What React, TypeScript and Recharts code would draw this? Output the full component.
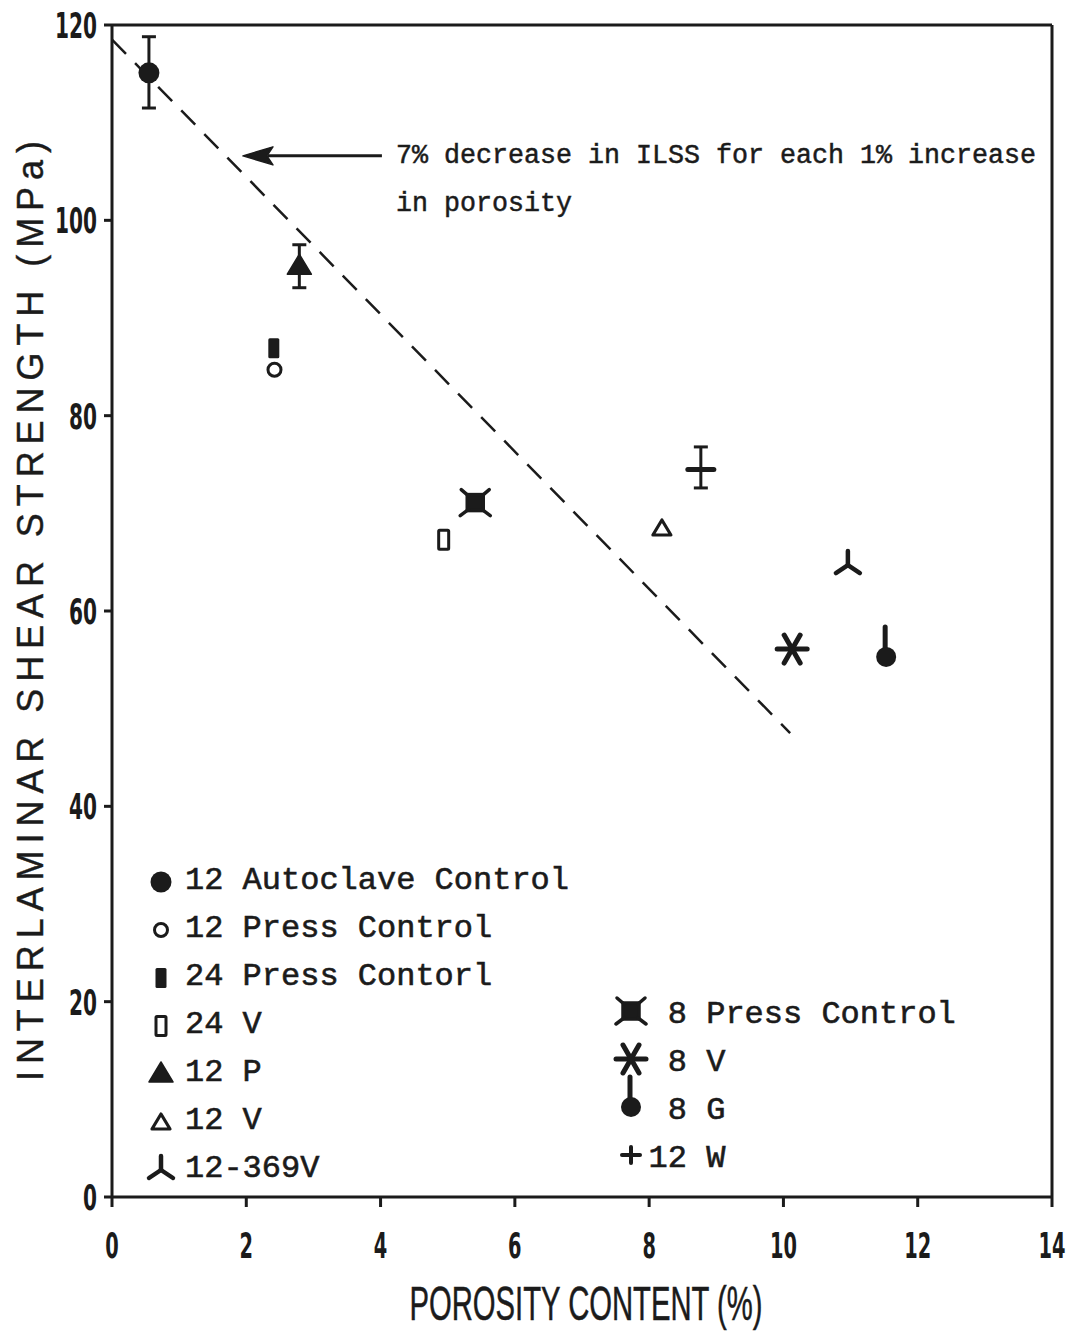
import React from "react";
import { ScatterChart, Scatter, XAxis, YAxis, ErrorBar, ReferenceLine } from "recharts";

const xTicks = [0, 2, 4, 6, 8, 10, 12, 14];
const yTicks = [0, 20, 40, 60, 80, 100, 120];

// porosity content (%), ILSS (MPa), error [below, above]
const autoclave12 = [{ x: 0.55, y: 115.1, err: [3.6, 3.7] }];
const pressControl12 = [{ x: 2.42, y: 84.7 }];
const pressControl24 = [{ x: 2.41, y: 86.9 }];
const v24 = [{ x: 4.94, y: 67.3 }];
const p12 = [{ x: 2.79, y: 95.3, err: [2.2, 2.2] }];
const v12 = [{ x: 8.19, y: 68.5 }];
const v12369 = [{ x: 10.96, y: 64.7 }];
const pressControl8 = [{ x: 5.41, y: 71.1 }];
const v8 = [{ x: 10.13, y: 56.1 }];
const g8 = [{ x: 11.53, y: 55.3 }];
const w12 = [{ x: 8.77, y: 74.5, err: [1.9, 2.3] }];

// 7% per 1% porosity trend
const trend = [
  { x: 0, y: 118.5 },
  { x: 10.1, y: 47.5 },
];
const arrow = [
  { x: 4.02, y: 106.6 },
  { x: 1.95, y: 106.6 },
];

const noteLines = ["7% decrease in ILSS for each 1% increase", "in porosity"];
const legendLeft = ["12 Autoclave Control", "12 Press Control", "24 Press Contorl", "24 V", "12 P", "12 V", "12-369V"];
const legendRight = ["8 Press Control", "8 V", "8 G", "12 W"];

const INK = "#1b1b1b";

type Mark = (cx: number, cy: number) => React.ReactElement;

const filledCircle: Mark = (cx, cy) => <circle cx={cx} cy={cy} r={10.5} fill={INK} />;
const openCircle: Mark = (cx, cy) => (
  <circle cx={cx} cy={cy} r={6.5} fill="#fff" stroke={INK} strokeWidth={3} />
);
const filledRect: Mark = (cx, cy) => (
  <rect x={cx - 5.5} y={cy - 10} width={11} height={20} rx={1.5} fill={INK} />
);
const openRect: Mark = (cx, cy) => (
  <rect x={cx - 5} y={cy - 9.5} width={10} height={19} rx={1} fill="#fff" stroke={INK} strokeWidth={3} />
);
const filledTriangle: Mark = (cx, cy) => (
  <polygon
    points={`${cx},${cy - 12} ${cx + 12},${cy + 8} ${cx - 12},${cy + 8}`}
    fill={INK}
    stroke={INK}
    strokeWidth={1.5}
    strokeLinejoin="round"
  />
);
const openTriangle: Mark = (cx, cy) => (
  <polygon
    points={`${cx},${cy - 8} ${cx + 9},${cy + 7} ${cx - 9},${cy + 7}`}
    fill="#fff"
    stroke={INK}
    strokeWidth={3.2}
    strokeLinejoin="round"
  />
);
const triStar: Mark = (cx, cy) => (
  <g stroke={INK} strokeWidth={4.5} strokeLinecap="round" fill="none">
    <line x1={cx} y1={cy} x2={cx} y2={cy - 14} />
    <line x1={cx} y1={cy} x2={cx - 12} y2={cy + 8} />
    <line x1={cx} y1={cy} x2={cx + 12} y2={cy + 8} />
  </g>
);
const xBox: Mark = (cx, cy) => (
  <g stroke={INK} strokeWidth={3.5} strokeLinecap="round">
    <rect x={cx - 8} y={cy - 8} width={16} height={16} fill={INK} />
    <line x1={cx - 7} y1={cy - 7} x2={cx - 14} y2={cy - 13} />
    <line x1={cx + 7} y1={cy - 7} x2={cx + 14} y2={cy - 13} />
    <line x1={cx - 7} y1={cy + 7} x2={cx - 15} y2={cy + 13} />
    <line x1={cx + 7} y1={cy + 7} x2={cx + 15} y2={cy + 13} />
  </g>
);
const asterisk: Mark = (cx, cy) => (
  <g stroke={INK} strokeWidth={5} strokeLinecap="round">
    <line x1={cx - 15} y1={cy} x2={cx + 15} y2={cy} />
    <line x1={cx - 8} y1={cy - 14} x2={cx + 8} y2={cy + 14} />
    <line x1={cx + 8} y1={cy - 14} x2={cx - 8} y2={cy + 14} />
  </g>
);
const stemCircle: Mark = (cx, cy) => (
  <g>
    <line x1={cx - 1} y1={cy} x2={cx - 1} y2={cy - 30} stroke={INK} strokeWidth={5} strokeLinecap="round" />
    <circle cx={cx} cy={cy} r={10} fill={INK} />
  </g>
);
const plusBar: Mark = (cx, cy) => (
  <line x1={cx - 13} y1={cy} x2={cx + 13} y2={cy} stroke={INK} strokeWidth={5} strokeLinecap="round" />
);
const plusSign: Mark = (cx, cy) => (
  <g stroke={INK} strokeWidth={4} strokeLinecap="round">
    <line x1={cx - 9} y1={cy} x2={cx + 9} y2={cy} />
    <line x1={cx} y1={cy - 8} x2={cx} y2={cy + 8} />
  </g>
);

const shapeOf = (mark: Mark) => (props: any) => mark(props.cx, props.cy);

const leftMarks: Mark[] = [filledCircle, openCircle, filledRect, openRect, filledTriangle, openTriangle, triStar];
const rightMarks: Mark[] = [xBox, asterisk, stemCircle, plusSign];

const tickFont = {
  fontFamily: "'DejaVu Sans Condensed', 'DejaVu Sans', sans-serif",
  fontWeight: 700,
  fontSize: 36,
  fill: INK,
};

const XTick = (props: any) => {
  const label = String(props.payload.value);
  return (
    <text
      x={props.x}
      y={1258}
      textAnchor="middle"
      textLength={label.length * 13.5}
      lengthAdjust="spacingAndGlyphs"
      {...tickFont}
    >
      {label}
    </text>
  );
};

const YTick = (props: any) => {
  const label = String(props.payload.value);
  return (
    <text
      x={97}
      y={props.y + 13}
      textAnchor="end"
      textLength={label.length * 14}
      lengthAdjust="spacingAndGlyphs"
      {...tickFont}
    >
      {label}
    </text>
  );
};

const ArrowShape = (props: any) => {
  const { x1, y1, x2, y2 } = props;
  return (
    <g>
      <line x1={x1} y1={y1} x2={x2 + 25} y2={y2} stroke={INK} strokeWidth={3} />
      <polygon
        points={`${x2},${y2} ${x2 + 30},${y2 - 9} ${x2 + 24},${y2} ${x2 + 30},${y2 + 9}`}
        fill={INK}
        stroke={INK}
        strokeWidth={1.5}
        strokeLinejoin="round"
      />
    </g>
  );
};

const legendText = {
  fontFamily: "'Liberation Mono', 'Courier New', monospace",
  fontSize: 32,
  fill: INK,
  stroke: INK,
  strokeWidth: 0.6,
};

const Overlay = () => (
  <svg width={1072} height={1336} style={{ position: "absolute", left: 0, top: 0, pointerEvents: "none" }}>
    {/* trend annotation */}
    <g fontFamily="'Liberation Mono', 'Courier New', monospace" fontSize={27} fill={INK} stroke={INK} strokeWidth={0.5}>
      <text x={396} y={163} textLength={640} lengthAdjust="spacingAndGlyphs">
        {noteLines[0]}
      </text>
      <text x={396} y={211} textLength={176} lengthAdjust="spacingAndGlyphs">
        {noteLines[1]}
      </text>
    </g>

    {/* legend, left column */}
    {legendLeft.map((label, i) => (
      <g key={label}>
        {leftMarks[i](161, 882 + i * 48)}
        <text x={185} y={889 + i * 48} textLength={label.length * 19.2} lengthAdjust="spacingAndGlyphs" {...legendText}>
          {label}
        </text>
      </g>
    ))}

    {/* legend, right column */}
    {legendRight.map((label, i) => (
      <g key={label}>
        {rightMarks[i](631, 1011 + i * 48)}
        <text
          x={687 - 19.2 * label.indexOf(" ")}
          y={1023 + i * 48}
          textLength={label.length * 19.2}
          lengthAdjust="spacingAndGlyphs"
          {...legendText}
        >
          {label}
        </text>
      </g>
    ))}

    {/* axis titles */}
    <text
      x={43}
      y={611}
      transform="rotate(-90 43 611)"
      textAnchor="middle"
      fontFamily="'Liberation Sans', Arial, sans-serif"
      fontSize={36}
      fill={INK}
      stroke={INK}
      strokeWidth={0.4}
      textLength={940}
      lengthAdjust="spacing"
    >
      INTERLAMINAR SHEAR STRENGTH (MPa)
    </text>
    <text
      x={586}
      y={1320}
      textAnchor="middle"
      fontFamily="'Liberation Sans', Arial, sans-serif"
      fontSize={48}
      fill={INK}
      stroke={INK}
      strokeWidth={0.5}
      textLength={353}
      lengthAdjust="spacingAndGlyphs"
    >
      POROSITY CONTENT (%)
    </text>
  </svg>
);

const errorProps = { dataKey: "err", direction: "y" as const, width: 7, strokeWidth: 3, stroke: INK };

export default function App() {
  return (
    <div style={{ position: "absolute", left: 0, top: 0, width: 1072, height: 1336, background: "#fff" }}>
      <ScatterChart width={1072} height={1336} margin={{ top: 25, right: 20, bottom: 59, left: 52 }}>
        <XAxis
          type="number"
          dataKey="x"
          domain={[0, 14]}
          ticks={xTicks}
          height={80}
          tickSize={10}
          tickMargin={0}
          tick={<XTick />}
          axisLine={{ stroke: INK, strokeWidth: 3 }}
          tickLine={{ stroke: INK, strokeWidth: 3 }}
        />
        <YAxis
          type="number"
          dataKey="y"
          domain={[0, 120]}
          ticks={yTicks}
          width={60}
          tickSize={8}
          tickMargin={0}
          tick={<YTick />}
          axisLine={{ stroke: INK, strokeWidth: 3 }}
          tickLine={{ stroke: INK, strokeWidth: 3 }}
        />
        <ReferenceLine y={120} stroke={INK} strokeWidth={3} />
        <ReferenceLine x={14} stroke={INK} strokeWidth={3} />
        <ReferenceLine segment={trend} stroke={INK} strokeWidth={2.5} strokeDasharray="20 13" />
        <ReferenceLine segment={arrow} shape={<ArrowShape />} />

        <Scatter data={autoclave12} shape={shapeOf(filledCircle)} isAnimationActive={false}>
          <ErrorBar {...errorProps} />
        </Scatter>
        <Scatter data={pressControl24} shape={shapeOf(filledRect)} isAnimationActive={false} />
        <Scatter data={pressControl12} shape={shapeOf(openCircle)} isAnimationActive={false} />
        <Scatter data={p12} shape={shapeOf(filledTriangle)} isAnimationActive={false}>
          <ErrorBar {...errorProps} />
        </Scatter>
        <Scatter data={v24} shape={shapeOf(openRect)} isAnimationActive={false} />
        <Scatter data={pressControl8} shape={shapeOf(xBox)} isAnimationActive={false} />
        <Scatter data={v12} shape={shapeOf(openTriangle)} isAnimationActive={false} />
        <Scatter data={w12} shape={shapeOf(plusBar)} isAnimationActive={false}>
          <ErrorBar {...errorProps} />
        </Scatter>
        <Scatter data={v12369} shape={shapeOf(triStar)} isAnimationActive={false} />
        <Scatter data={v8} shape={shapeOf(asterisk)} isAnimationActive={false} />
        <Scatter data={g8} shape={shapeOf(stemCircle)} isAnimationActive={false} />
      </ScatterChart>
      <Overlay />
    </div>
  );
}
